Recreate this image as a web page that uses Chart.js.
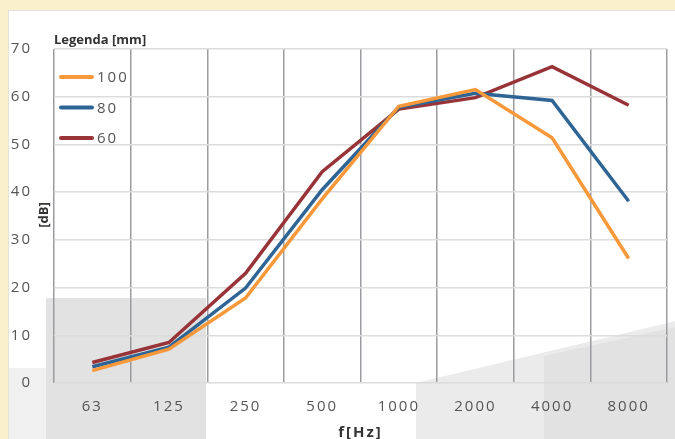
<!DOCTYPE html>
<html>
<head>
<meta charset="utf-8">
<script src="https://cdn.jsdelivr.net/npm/chart.js@4.4.1/dist/chart.umd.min.js"></script>
<style>
    html, body { margin: 0; padding: 0; }
    body { width: 675px; height: 439px; background: #f9f0cc; position: relative; overflow: hidden; }
    .panel { position: absolute; left: 8px; top: 10px; right: 0; bottom: 0; background: #fff; border: 1px solid #e4e2da; border-right: none; border-bottom: none; overflow: hidden; }
    .shade { position: absolute; }
    #wrap { position: absolute; left: 0; top: 0; width: 675px; height: 439px; }
</style>
</head>
<body>
<!-- faded product photo behind the chart -->
<div class="panel">
    <div class="shade" style="left:0; top:357px; width:40px; height:100px; background:#f0f0f0;"></div>
    <div class="shade" style="left:37px; top:287px; width:160px; height:160px; background:#e2e2e2;"></div>
    <div class="shade" style="left:0; top:0; width:667px; height:429px; background:#ebebeb; clip-path: polygon(407px 372px, 667px 310px, 667px 429px, 407px 429px);"></div>
    <div class="shade" style="left:0; top:0; width:667px; height:429px; background:#e2e2e2; clip-path: polygon(535px 345px, 667px 316px, 667px 429px, 535px 429px);"></div>
</div>
<div id="wrap"><canvas id="chart" width="675" height="439"></canvas></div>
<script>
// Chart data
const frequencies = ['63', '125', '250', '500', '1000', '2000', '4000', '8000'];
const thickness100 = [2.6, 7.1, 17.8, 38.6, 58.0, 61.5, 51.4, 26.1];
const thickness80 = [3.4, 7.5, 19.9, 40.5, 57.8, 60.7, 59.2, 38.1];
const thickness60 = [4.3, 8.5, 23.0, 44.3, 57.4, 59.8, 66.3, 58.2];
const seriesLabels = ['100', '80', '60'];
const seriesColors = ['#f7983a', '#2f6595', '#983337'];

const tickFont = { family: 'Open Sans', size: 15 };

// spaced out tick text like the original
const spacingPlugin = {
    id: 'spacing',
    beforeDraw(chart) {
        chart.ctx.letterSpacing = '2px';
    }
};

// y title + legend box drawn inside the plot
const legendPlugin = {
    id: 'customLegend',
    afterDraw(chart) {
        const ctx = chart.ctx;
        ctx.save();
        ctx.letterSpacing = '0px';
        ctx.fillStyle = '#333';
        ctx.font = 'bold 13px "Open Sans"';
        ctx.textAlign = 'left';
        ctx.textBaseline = 'alphabetic';
        ctx.fillText('Legenda [mm]', 54, 44);

        ctx.save();
        ctx.translate(44, 215);
        ctx.rotate(-Math.PI / 2);
        ctx.textAlign = 'center';
        ctx.textBaseline = 'middle';
        ctx.font = 'bold 13px "Open Sans"';
        ctx.fillText('[dB]', 0, 0);
        ctx.restore();

        chart.data.datasets.forEach((ds, i) => {
            const y = 77 + i * 30.5;
            ctx.strokeStyle = ds.borderColor;
            ctx.lineWidth = 4;
            ctx.lineCap = 'round';
            ctx.beginPath();
            ctx.moveTo(61, y);
            ctx.lineTo(92, y);
            ctx.stroke();
            ctx.letterSpacing = '2px';
            ctx.fillStyle = '#555';
            ctx.font = '15px "Open Sans"';
            ctx.textBaseline = 'middle';
            ctx.fillText(ds.label, 97, y + 1);
        });
        ctx.restore();
    }
};

const datasets = [thickness100, thickness80, thickness60].map((values, i) => ({
    label: seriesLabels[i],
    data: values,
    borderColor: seriesColors[i],
    backgroundColor: seriesColors[i],
    borderWidth: 3.5,
    pointRadius: 0,
    tension: 0,
    fill: false
}));

new Chart(document.getElementById('chart'), {
    type: 'line',
    data: { labels: frequencies, datasets: datasets },
    options: {
        responsive: false,
        animation: false,
        layout: { padding: { left: 0, right: 8, top: 49, bottom: 0 } },
        plugins: {
            legend: { display: false },
            tooltip: { enabled: false }
        },
        scales: {
            x: {
                offset: true,
                grid: { offset: true, color: '#9c9ca0', lineWidth: 1.5, drawTicks: false },
                border: { display: false },
                ticks: { font: tickFont, color: '#555', padding: 15, maxRotation: 0 },
                title: {
                    display: true,
                    text: 'f[Hz]',
                    color: '#333',
                    font: { family: 'Open Sans', size: 15, weight: 'bold', lineHeight: 0.8 },
                    padding: 0
                },
                afterFit(scale) { scale.height = 56; }
            },
            y: {
                min: 0,
                max: 70,
                grid: { color: '#dcdcdc', lineWidth: 1.5, drawTicks: false },
                border: { display: false },
                ticks: { stepSize: 10, font: tickFont, color: '#555', padding: 22 },
                afterFit(scale) { scale.width = 54; }
            }
        }
    },
    plugins: [spacingPlugin, legendPlugin]
});
</script>
</body>
</html>
